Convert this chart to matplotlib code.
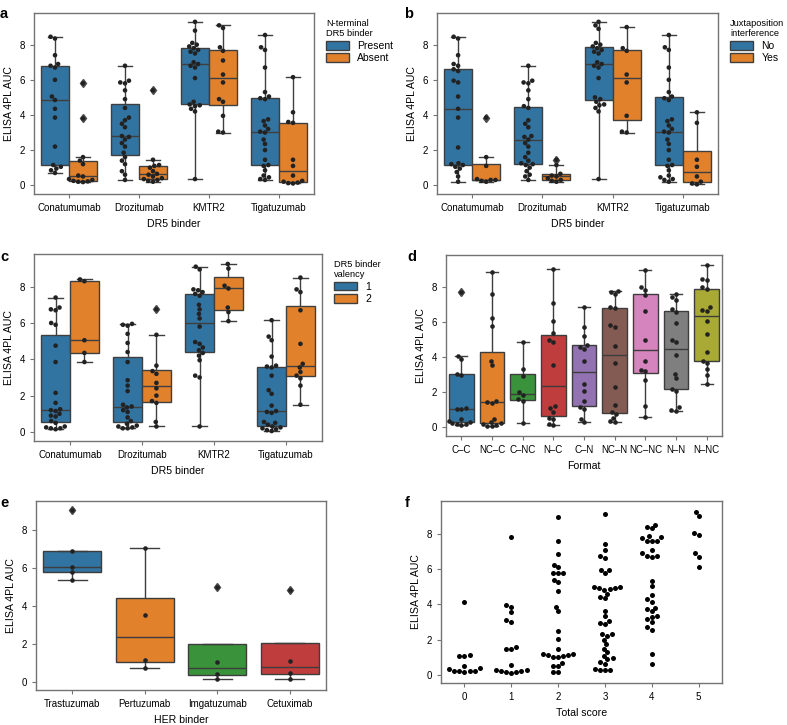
import warnings
import pandas as pd
import matplotlib
matplotlib.use("Agg")
import matplotlib.pyplot as plt
import seaborn as sns

warnings.filterwarnings("ignore")

plt.rcParams["font.family"] = ["Liberation Sans", "DejaVu Sans"]
plt.rcParams["font.size"] = 7

binders = ["Conatumumab", "Drozitumab", "KMTR2", "Tigatuzumab"]

# a: N-terminal DR5 binder
a_present = {
    "Conatumumab": [0.7, 0.85, 0.95, 1.05, 1.15, 2.2, 3.85, 4.35, 4.85, 5.05, 6.0, 6.7, 6.8, 6.9, 7.4, 8.35, 8.45],
    "Drozitumab": [0.3, 0.6, 0.8, 1.2, 1.4, 1.6, 1.85, 2.2, 2.4, 2.6, 2.75, 2.8, 3.3, 3.5, 3.7, 3.85, 4.4, 4.9, 5.4, 5.8, 5.85, 5.95, 6.8],
    "KMTR2": [0.35, 4.2, 4.35, 4.5, 4.55, 4.6, 4.75, 6.1, 6.7, 6.8, 6.9, 7.0, 7.5, 7.6, 7.7, 7.8, 7.9, 8.0, 8.1, 8.8, 9.3],
    "Tigatuzumab": [0.3, 0.35, 0.45, 0.55, 0.85, 1.1, 1.15, 1.45, 2.0, 2.35, 2.6, 3.0, 3.05, 3.2, 3.4, 3.65, 3.75, 4.9, 4.95, 5.05, 5.3, 6.7, 7.7, 7.85, 8.55],
}
a_absent = {
    "Conatumumab": [0.18, 0.2, 0.22, 0.25, 0.3, 0.35, 0.5, 0.55, 1.2, 1.4, 1.6, 3.8, 5.8],
    "Drozitumab": [0.2, 0.25, 0.3, 0.35, 0.4, 0.5, 0.6, 0.65, 0.8, 1.0, 1.1, 1.15, 1.45, 5.4],
    "KMTR2": [3.0, 3.05, 3.95, 4.75, 4.9, 5.85, 6.3, 7.1, 7.65, 7.85, 8.95, 9.1],
    "Tigatuzumab": [0.1, 0.12, 0.15, 0.2, 0.25, 0.55, 1.1, 1.45, 3.55, 3.6, 4.15, 6.15],
}

# b: juxtaposition interference
b_no = {
    "Conatumumab": [0.2, 0.5, 0.75, 0.95, 1.05, 1.15, 1.2, 1.25, 2.15, 3.85, 4.35, 5.05, 5.85, 5.95, 6.5, 6.6, 6.8, 6.9, 7.4, 8.35, 8.45],
    "Drozitumab": [0.3, 0.5, 0.6, 0.8, 1.0, 1.15, 1.2, 1.25, 1.4, 1.6, 1.85, 2.2, 2.4, 2.6, 2.75, 2.8, 3.3, 3.5, 3.7, 4.4, 4.5, 4.9, 5.4, 5.8, 5.85, 5.95, 6.8],
    "KMTR2": [0.35, 4.2, 4.4, 4.55, 4.6, 4.75, 4.9, 5.0, 6.1, 6.7, 6.8, 6.9, 7.0, 7.5, 7.6, 7.7, 7.8, 7.9, 8.0, 8.1, 8.9, 9.1, 9.3],
    "Tigatuzumab": [0.2, 0.3, 0.35, 0.45, 0.55, 0.85, 1.1, 1.15, 1.45, 2.0, 2.35, 2.6, 3.0, 3.05, 3.2, 3.4, 3.65, 3.75, 4.85, 4.95, 5.05, 5.3, 6.0, 6.7, 7.7, 7.85, 8.55],
}
b_yes = {
    "Conatumumab": [0.2, 0.25, 0.3, 0.3, 0.35, 1.1, 1.6, 3.85],
    "Drozitumab": [0.2, 0.25, 0.3, 0.4, 0.5, 0.55, 0.65, 1.15, 1.45],
    "KMTR2": [3.0, 3.05, 3.95, 5.85, 6.3, 7.65, 7.8, 9.0],
    "Tigatuzumab": [0.05, 0.1, 0.2, 0.5, 1.05, 1.45, 3.55, 4.15],
}

# c: DR5 binder valency
c_one = {
    "Conatumumab": [0.15, 0.2, 0.2, 0.25, 0.3, 0.5, 0.6, 0.85, 0.9, 1.0, 1.15, 1.2, 1.25, 1.6, 2.15, 3.85, 4.75, 5.9, 6.0, 6.7, 6.75, 6.85, 7.4],
    "Drozitumab": [0.2, 0.2, 0.25, 0.3, 0.35, 0.45, 0.6, 0.8, 1.1, 1.2, 1.35, 1.4, 1.5, 2.25, 2.55, 2.85, 3.85, 4.4, 4.9, 5.4, 5.85, 5.9, 5.95],
    "KMTR2": [0.3, 3.0, 3.1, 3.95, 4.2, 4.35, 4.5, 4.65, 4.85, 4.95, 5.8, 6.25, 6.5, 6.75, 7.0, 7.5, 7.6, 7.7, 7.8, 7.85, 8.95, 9.1],
    "Tigatuzumab": [0.05, 0.1, 0.15, 0.2, 0.25, 0.3, 0.4, 0.5, 0.55, 1.05, 1.1, 1.15, 1.45, 2.1, 2.3, 3.1, 3.55, 3.6, 3.65, 4.15, 5.05, 5.25, 6.15],
}
c_two = {
    "Conatumumab": [3.85, 4.35, 5.05, 8.3, 8.4],
    "Drozitumab": [0.3, 0.55, 1.6, 1.7, 2.0, 2.4, 2.7, 3.2, 3.35, 3.65, 5.35, 6.75],
    "KMTR2": [6.1, 6.6, 6.85, 7.9, 8.05, 9.0, 9.25],
    "Tigatuzumab": [1.5, 2.55, 2.95, 3.1, 3.3, 3.55, 3.75, 4.85, 6.7, 7.7, 7.85, 8.5],
}

# d: format
formats = ["C–C", "NC–C", "C–NC", "N–C", "C–N", "NC–N", "NC–NC", "N–N", "N–NC"]
d_values = {
    "C–C": [0.15, 0.2, 0.2, 0.25, 0.3, 0.35, 0.5, 1.05, 1.05, 1.1, 3.0, 3.05, 3.9, 4.1, 7.75],
    "NC–C": [0.05, 0.1, 0.15, 0.2, 0.25, 0.3, 0.5, 1.4, 1.45, 1.5, 3.55, 3.8, 5.8, 6.25, 7.6, 8.9],
    "C–NC": [0.25, 1.5, 1.6, 1.85, 2.0, 2.95, 3.35, 4.85],
    "N–C": [0.15, 0.2, 0.45, 0.55, 0.9, 1.1, 1.2, 3.55, 4.85, 5.0, 5.4, 6.1, 7.1, 9.05],
    "C–N": [0.3, 0.5, 1.05, 1.15, 1.5, 2.05, 2.5, 3.8, 4.5, 4.6, 4.7, 5.2, 5.75, 6.85],
    "NC–N": [0.3, 0.35, 0.55, 0.75, 0.85, 1.25, 2.3, 3.65, 4.65, 5.75, 5.85, 6.8, 6.9, 7.6, 7.75, 7.8],
    "NC–NC": [0.6, 1.2, 2.7, 3.2, 3.25, 3.8, 5.0, 6.65, 7.55, 7.85, 8.0, 9.0],
    "N–N": [0.95, 1.0, 1.15, 2.1, 2.2, 2.8, 3.05, 4.15, 4.85, 5.0, 5.95, 6.6, 6.75, 7.3, 7.45, 7.6],
    "N–NC": [2.5, 3.0, 3.35, 3.65, 3.8, 4.3, 5.35, 6.1, 6.65, 6.7, 6.85, 7.9, 8.0, 8.4, 8.5, 9.25],
}

# e: HER binder
her_binders = ["Trastuzumab", "Pertuzumab", "Imgatuzumab", "Cetuximab"]
e_values = {
    "Trastuzumab": [5.4, 5.8, 6.1, 6.9, 9.1],
    "Pertuzumab": [0.75, 1.2, 3.55, 7.1],
    "Imgatuzumab": [0.2, 0.45, 1.05, 5.0],
    "Cetuximab": [0.2, 0.5, 1.15, 4.85],
}

# f: total score
scores = [0, 1, 2, 3, 4, 5]
f_values = {
    0: [0.2, 0.22, 0.22, 0.25, 0.25, 0.32, 0.38, 0.5, 1.08, 1.1, 1.12, 4.15],
    1: [0.1, 0.15, 0.2, 0.25, 0.25, 0.3, 0.3, 0.55, 1.45, 1.45, 1.6, 3.0, 3.1, 3.55, 3.85, 3.95, 7.8],
    2: [0.2, 0.2, 0.5, 0.5, 0.7, 1.0, 1.05, 1.1, 1.15, 1.15, 1.2, 1.2, 1.5, 2.05, 2.5, 3.6, 3.85, 4.75,
        5.25, 5.4, 5.8, 5.8, 5.8, 6.1, 6.25, 6.85, 7.6, 8.95],
    3: [0.3, 0.3, 0.3, 0.35, 0.65, 0.75, 0.9, 0.95, 1.1, 1.3, 1.5, 1.75, 2.0, 2.2, 2.3, 2.3, 2.9, 2.95,
        3.05, 3.35, 3.65, 4.35, 4.4, 4.6, 4.8, 4.85, 4.9, 4.95, 5.0, 5.0, 5.75, 5.95, 5.95, 6.6, 6.75,
        7.1, 7.4, 9.1],
    4: [0.6, 1.2, 2.55, 2.7, 3.0, 3.15, 3.3, 3.35, 3.6, 3.75, 3.8, 4.15, 4.3, 4.55, 5.05, 5.35, 6.7,
        6.75, 6.75, 6.9, 7.05, 7.6, 7.6, 7.6, 7.75, 7.8, 7.85, 8.3, 8.4, 8.5],
    5: [6.1, 6.7, 6.9, 7.9, 8.05, 9.0, 9.25],
}

pal = sns.color_palette("tab10")
dot = "#222222"
spine_c = "0.45"
flier = {"marker": "d", "markerfacecolor": "0.3", "markeredgecolor": "0.3", "markersize": 4.5}


def long_df(groups, keys):
    rows = []
    for level, d in groups:
        for k in keys:
            for v in d[k]:
                rows.append((k, level, v))
    return pd.DataFrame(rows, columns=["cat", "hue", "auc"])


def style(ax, xlabel, ylim):
    ax.set_ylim(*ylim)
    ax.set_yticks([0, 2, 4, 6, 8])
    ax.set_xlabel(xlabel, fontsize=7.6)
    ax.set_ylabel("ELISA 4PL AUC", fontsize=7.6)
    ax.tick_params(labelsize=7, length=3, color=spine_c)
    for s in ax.spines.values():
        s.set_color(spine_c)
        s.set_linewidth(1)


def hue_panel(ax, groups, title):
    levels = [g[0] for g in groups]
    df = long_df(groups, binders)
    sns.boxplot(data=df, x="cat", y="auc", hue="hue", order=binders, hue_order=levels,
                palette=pal[:2], linewidth=1, flierprops=flier, ax=ax)
    sns.swarmplot(data=df, x="cat", y="auc", hue="hue", order=binders, hue_order=levels,
                  dodge=True, palette=[dot, dot], size=3.3, legend=False, ax=ax)
    h, l = ax.get_legend_handles_labels()
    ax.legend(h, l, title=title, loc="upper left", bbox_to_anchor=(1.01, 1.02),
              frameon=False, alignment="left", fontsize=7.5, title_fontsize=6.7,
              handlelength=2.2, handleheight=0.9, labelspacing=0.25)
    style(ax, "DR5 binder", (-0.5, 9.8))


def cat_panel(ax, values, keys, xlabel, ylim):
    df = long_df([("all", values)], keys)
    sns.boxplot(data=df, x="cat", y="auc", hue="cat", order=keys, hue_order=keys,
                palette=pal[:len(keys)], linewidth=1, flierprops=flier, legend=False, ax=ax)
    sns.swarmplot(data=df, x="cat", y="auc", order=keys, color=dot, size=3.3, ax=ax)
    style(ax, xlabel, ylim)


fig = plt.figure(figsize=(7.87, 7.25), dpi=100)
ax_a = fig.add_axes([0.0432, 0.7324, 0.3558, 0.2496])
ax_b = fig.add_axes([0.5553, 0.7324, 0.3570, 0.2496])
ax_c = fig.add_axes([0.0432, 0.3917, 0.3660, 0.2580])
ax_d = fig.add_axes([0.5667, 0.3986, 0.3507, 0.2497])
ax_e = fig.add_axes([0.0457, 0.0483, 0.3685, 0.2607])
ax_f = fig.add_axes([0.5604, 0.0579, 0.3570, 0.2511])

hue_panel(ax_a, [("Present", a_present), ("Absent", a_absent)], "N-terminal\nDR5 binder")
hue_panel(ax_b, [("No", b_no), ("Yes", b_yes)], "Juxtaposition\ninterference")
hue_panel(ax_c, [("1", c_one), ("2", c_two)], "DR5 binder\nvalency")

cat_panel(ax_d, d_values, formats, "Format", (-0.5, 9.85))
cat_panel(ax_e, e_values, her_binders, "HER binder", (-0.4, 9.55))

df_f = pd.DataFrame([(s, v) for s in scores for v in f_values[s]], columns=["score", "auc"])
sns.swarmplot(data=df_f, x="score", y="auc", order=scores, color="black", size=3.6, ax=ax_f)
style(ax_f, "Total score", (-0.45, 9.85))

for lab, x, y in [("a", 0.0, 0.99), ("b", 0.514, 0.99), ("c", 0.0, 0.655),
                  ("d", 0.518, 0.655), ("e", 0.0, 0.316), ("f", 0.514, 0.316)]:
    fig.text(x, y, lab, fontsize=10.5, fontweight="bold", va="top", ha="left")

fig.savefig("out.png", dpi=100)
